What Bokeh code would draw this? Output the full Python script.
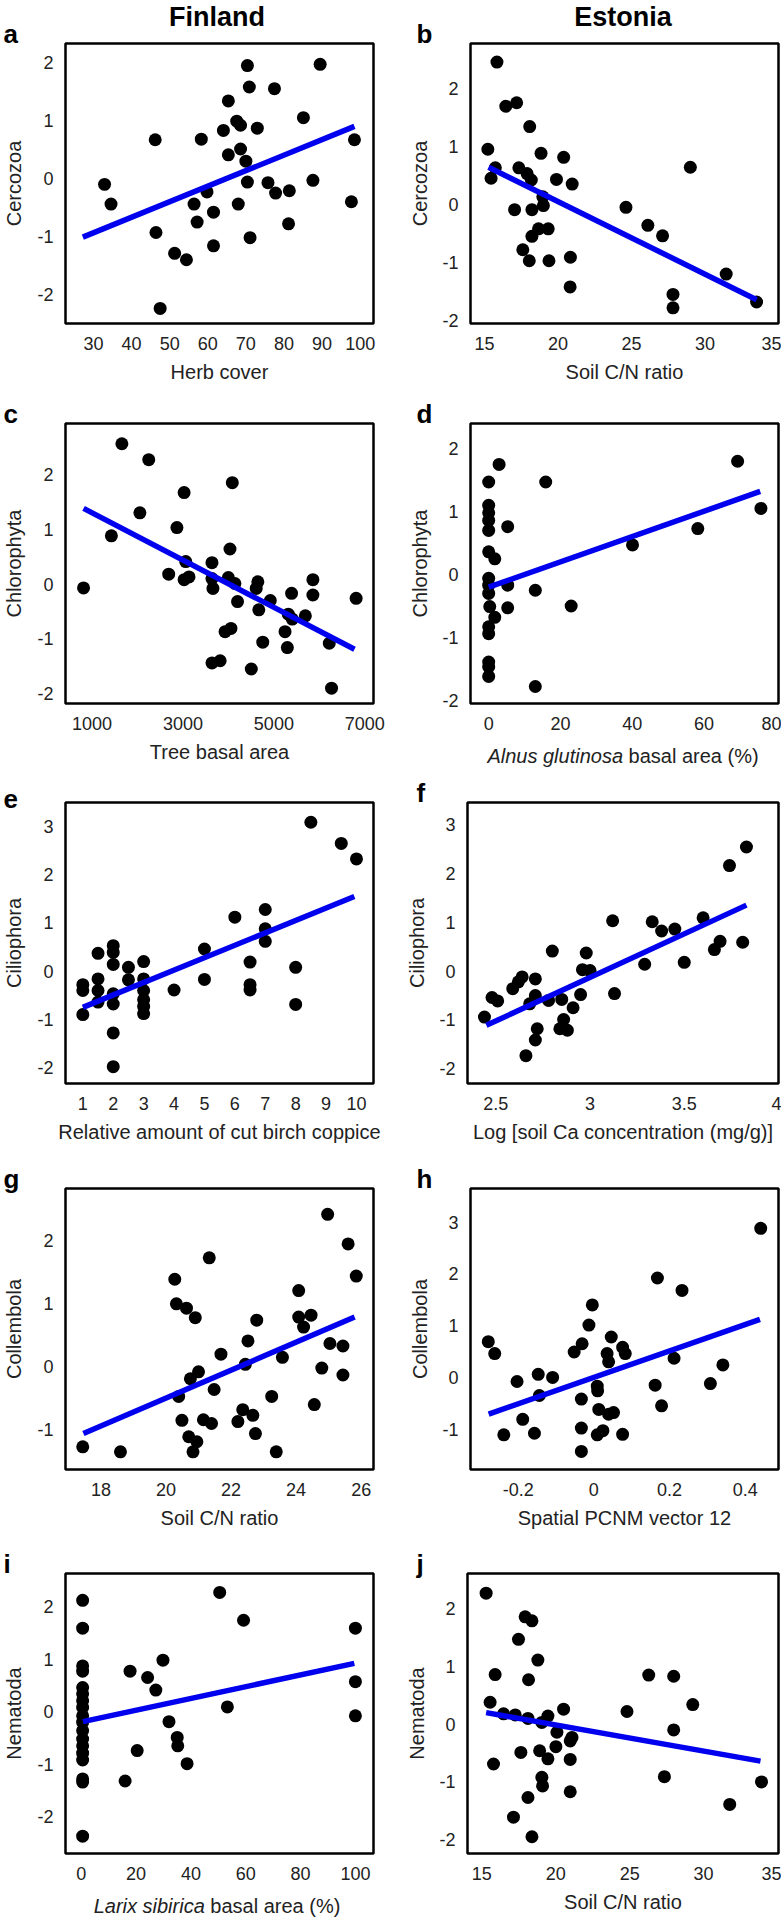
from bokeh.plotting import figure
from bokeh.models import Range1d, FixedTicker, CustomJSTickFormatter, Label
from bokeh.layouts import column, row
from bokeh.embed import file_html
from bokeh.resources import INLINE

FONT = "Liberation Sans"

# ---------------- data ----------------
# a  Finland, Cercozoa vs Herb cover
a_x = [32.9, 34.6, 46.2, 46.4, 47.5, 51.3, 54.4, 56.4, 57.2, 58.3, 59.8, 61.5, 61.5, 64.1, 65.4, 65.4, 67.6, 68.6,
       68.0, 68.6, 70.0, 70.4, 70.9, 70.4, 71.1, 73.0, 75.8, 77.5, 77.8, 81.4, 81.2, 85.1, 87.6, 89.5, 97.7, 98.5]
a_y = [-0.10, -0.44, 0.67, -0.93, -2.24, -1.29, -1.40, -0.44, -0.75, 0.68, -0.23, -0.58, -1.16, 0.83, 1.34, 0.41, 0.99, 0.92,
       -0.44, 0.51, 0.30, 1.95, 1.58, -0.06, -1.02, 0.87, -0.07, 1.55, -0.25, -0.21, -0.78, 1.05, -0.03, 1.97, -0.40, 0.67]
a_fit_x = [27.2, 98.5]
a_fit_y = [-1.01, 0.90]
a_xticks = [30, 40, 50, 60, 70, 80, 90, 100]
a_yticks = [-2, -1, 0, 1, 2]

# b  Estonia, Cercozoa vs Soil C/N ratio
b_x = [15.84, 15.22, 15.44, 15.73, 16.44, 17.18, 17.04, 17.33, 17.6, 17.89, 18.04, 18.07, 18.18, 18.22, 18.22, 18.67, 18.84,
       18.96, 19.0, 19.33, 19.38, 19.89, 20.38, 20.82, 20.84, 20.96, 24.62, 26.11, 27.11, 27.82, 27.82, 29.0, 31.44, 33.51]
b_y = [2.45, 0.95, 0.45, 0.63, 1.69, 1.75, -0.09, 0.63, -0.78, 0.53, -0.97, 1.34, 0.42, -0.09, -0.55, -0.42, 0.88,
       0.13, -0.02, -0.42, -0.97, 0.43, 0.81, -1.42, -0.91, 0.35, -0.05, -0.36, -0.54, -1.55, -1.78, 0.64, -1.20, -1.68]
b_fit_x = [15.27, 33.51]
b_fit_y = [0.64, -1.64]
b_xticks = [15, 20, 25, 30, 35]
b_yticks = [-2, -1, 0, 1, 2]

# c  Finland, Chlorophyta vs Tree basal area
c_x = [813, 1425, 1656, 2052, 2247, 2686, 2867, 3025, 3061, 3025, 3133, 3638, 3638, 3659, 3638, 3818, 3926, 4056, 4034, 4085,
       3998, 4142, 4200, 4503, 4647, 4611, 4668, 4755, 4921, 5245, 5296, 5317, 5389, 5404, 5692, 5858, 5858, 6218, 6268, 6809]
c_y = [-0.07, 0.88, 2.56, 1.30, 2.27, 0.18, 1.03, 1.67, 0.41, 0.08, 0.13, 0.39, 0.10, -0.08, -1.44, -1.40, -0.87, -0.81, 0.64, 1.85,
       0.12, 0.01, -0.32, -1.55, 0.04, -0.08, -0.47, -1.06, -0.30, -0.87, -1.16, -0.55, -0.17, -0.64, -0.58, 0.08, -0.20, -1.08, -1.90, -0.26]
c_fit_x = [813, 6773]
c_fit_y = [1.38, -1.19]
c_xticks = [1000, 3000, 5000, 7000]
c_yticks = [-2, -1, 0, 1, 2]

# d  Estonia, Chlorophyta vs Alnus glutinosa basal area (%)
d_x = [0, 0, 0, 0, 0, 0, 1.7, 0, 0, 0, 0.3, 1.7, 0, 0, 0, 0, 0, 2.9, 5.3, 5.3, 5.3, 13.0, 13.0, 15.9, 23.0, 40.1, 58.3, 69.4, 75.9]
d_y = [1.47, 1.10, 0.98, 0.86, 0.70, 0.36, 0.25, -0.06, -0.17, -0.30, -0.51, -0.68, -0.83, -0.94, -1.39, -1.47, -1.62, 1.75,
       0.76, -0.17, -0.53, -0.25, -1.78, 1.47, -0.50, 0.47, 0.73, 1.80, 1.05]
d_fit_x = [0, 75.7]
d_fit_y = [-0.20, 1.32]
d_xticks = [0, 20, 40, 60, 80]
d_yticks = [-2, -1, 0, 1, 2]

# e  Finland, Ciliophora vs Relative amount of cut birch coppice
e_x = [1, 1, 1, 1.5, 1.5, 1.5, 1.5, 2, 2, 2, 2, 2, 2, 2, 2.5, 2.5, 3, 3, 3, 3, 3, 3, 4, 5, 5, 6, 6.5, 6.5, 6.5,
       7, 7, 7, 8, 8, 8.5, 9.5, 10]
e_y = [-0.28, -0.40, -0.90, 0.37, -0.16, -0.40, -0.64, 0.53, 0.39, 0.14, -0.47, -0.68, -1.28, -1.98, 0.08, -0.18, 0.20, -0.16,
       -0.40, -0.59, -0.73, -0.88, -0.39, 0.46, -0.17, 1.12, 0.19, -0.28, -0.39, 1.28, 0.88, 0.62, 0.08, -0.69, 3.09, 2.65, 2.33]
e_fit_x = [1, 9.93]
e_fit_y = [-0.75, 1.55]
e_xticks = [1, 2, 3, 4, 5, 6, 7, 8, 9, 10]
e_yticks = [-2, -1, 0, 1, 2, 3]

# f  Estonia, Ciliophora vs Log soil Ca
f_x = [2.44, 2.48, 2.51, 2.59, 2.62, 2.64, 2.68, 2.71, 2.71, 2.72, 2.71, 2.66, 2.78, 2.80, 2.85, 2.84, 2.86, 2.88,
       2.91, 2.95, 2.96, 2.98, 3.0, 3.12, 3.13, 3.29, 3.33, 3.38, 3.45, 3.5, 3.60, 3.66, 3.69, 3.74, 3.81, 3.83]
f_y = [-0.94, -0.54, -0.61, -0.36, -0.22, -0.12, -0.67, -0.16, -0.50, -1.18, -1.41, -1.73, -0.60, 0.41, -0.58, -1.18, -0.99, -1.21,
       -0.75, -0.48, 0.03, 0.37, 0.01, 1.03, -0.46, 0.14, 1.01, 0.82, 0.86, 0.18, 1.09, 0.44, 0.61, 2.16, 0.59, 2.54]
f_fit_x = [2.45, 3.83]
f_fit_y = [-1.11, 1.35]
f_xticks = [2.5, 3, 3.5, 4]
f_yticks = [-2, -1, 0, 1, 2, 3]

# g  Finland, Collembola vs Soil C/N ratio
g_x = [17.44, 18.6, 20.27, 20.32, 20.63, 20.9, 20.39, 20.49, 20.70, 20.95, 20.83, 20.75, 21.0, 21.33, 21.15, 21.4, 21.48, 21.69,
       22.21, 22.36, 22.67, 22.75, 22.44, 22.52, 22.79, 23.25, 23.39, 23.58, 24.08, 24.08, 24.23, 24.46, 24.56, 24.79, 25.04,
       24.97, 25.44, 25.44, 25.60, 25.85]
g_y = [-1.28, -1.36, 1.38, 0.99, 0.92, 0.77, -0.48, -0.86, -1.12, -1.20, -1.36, -0.20, -0.09, 1.72, -0.85, -0.91, -0.37, 0.19,
       -0.88, -0.69, -0.78, -1.07, 0.03, 0.40, 0.73, -0.48, -1.36, 0.14, 1.20, 0.78, 0.62, 0.81, -0.61, -0.03, 0.36,
       2.41, 0.32, -0.14, 1.94, 1.43]
g_fit_x = [17.46, 25.8]
g_fit_y = [-1.07, 0.78]
g_xticks = [18, 20, 22, 24, 26]
g_yticks = [-1, 0, 1, 2]

# h  Estonia, Collembola vs Spatial PCNM vector 12
h_x = [-0.279, -0.262, -0.238, -0.203, -0.188, -0.157, -0.147, -0.144, -0.109, -0.052, -0.031, -0.033, -0.033, -0.033,
       -0.013, -0.004, 0.009, 0.010, 0.013, 0.009, 0.024, 0.035, 0.039, 0.039, 0.052, 0.046, 0.076, 0.083, 0.076,
       0.162, 0.179, 0.168, 0.212, 0.233, 0.308, 0.341, 0.441]
h_y = [0.69, 0.46, -1.11, -0.08, -0.81, -1.08, 0.06, -0.35, 0.0, 0.49, 0.65, -0.42, -0.98, -1.43,
       1.01, 1.40, -0.17, -0.26, -0.62, -1.11, -1.03, 0.46, 0.30, -0.71, -0.68, 0.78, 0.58, 0.46, -1.10,
       -0.15, -0.55, 1.92, 0.37, 1.68, -0.12, 0.24, 2.88]
h_fit_x = [-0.278, 0.439]
h_fit_y = [-0.71, 1.12]
h_xticks = [-0.2, 0, 0.2, 0.4]
h_yticks = [-1, 0, 1, 2, 3]

# i  Finland, Nematoda vs Larix sibirica basal area (%)
i_x = [0.5, 0.5, 0.5, 0.5, 0.5, 0.5, 0.5, 0.5, 0.5, 0.5, 0.5, 0.5, 0.5, 0.5, 0.5, 0.5, 0.5, 0.5,
       17.8, 20.4, 16.0, 24.2, 27.2, 29.8, 32.0, 35.0, 35.2, 38.6, 50.5, 53.3, 59.2, 100, 100, 100]
i_y = [2.12, 1.59, 0.87, 0.77, 0.46, 0.34, 0.21, 0.08, -0.08, -0.20, -0.36, -0.52, -0.65, -0.79, -0.92, -1.28, -1.34, -2.37,
       0.77, -0.74, -1.32, 0.65, 0.41, 0.98, -0.19, -0.49, -0.65, -0.99, 2.27, 0.09, 1.74, 1.59, 0.57, -0.08]
i_fit_x = [0.6, 99.6]
i_fit_y = [-0.19, 0.92]
i_xticks = [0, 20, 40, 60, 80, 100]
i_yticks = [-2, -1, 0, 1, 2]

# j  Estonia, Nematoda vs Soil C/N ratio
j_x = [15.29, 15.56, 15.90, 15.79, 16.47, 17.26, 17.14, 17.48, 17.64, 17.93, 18.12, 18.16, 18.12, 18.39, 18.39, 18.79,
       18.91, 19.06, 19.06, 19.11, 19.47, 19.47, 20.01, 20.08, 20.53, 20.98, 21.1, 20.98, 20.98, 24.82, 26.29, 27.35,
       27.98, 27.98, 29.27, 31.77, 33.92]
j_y = [2.27, 0.38, 0.86, -0.69, 0.18, 0.16, -1.61, 1.47, -0.49, 1.86, 0.10, 0.77, -1.27, 1.79, -1.95, 1.11,
       -0.46, 0.03, -0.92, -1.07, 0.14, -0.60, -0.39, -0.14, 0.26, -0.29, -0.23, -0.61, -1.17, 0.22, 0.85, -0.91,
       0.83, -0.10, 0.34, -1.39, -1.00]
j_fit_x = [15.29, 33.85]
j_fit_y = [0.20, -0.64]
j_xticks = [15, 20, 25, 30, 35]
j_yticks = [-2, -1, 0, 1, 2]

# axis limits of each panel
a_xlim, a_ylim = (22.65, 103.5), (-2.5, 2.33)
b_xlim, b_ylim = (14.04, 35.0), (-2.05, 2.77)
c_xlim, c_ylim = (416, 7191), (-2.18, 2.93)
d_xlim, d_ylim = (-5.07, 80.8), (-2.05, 2.40)
e_xlim, e_ylim = (0.43, 10.56), (-2.33, 3.50)
f_xlim, f_ylim = (2.35, 4.0), (-2.30, 3.45)
g_xlim, g_ylim = (16.91, 26.38), (-1.64, 2.82)
h_xlim, h_ylim = (-0.326, 0.488), (-1.78, 3.65)
i_xlim, i_ylim = (-5.75, 106.6), (-2.70, 2.63)
j_xlim, j_ylim = (14.03, 35.07), (-2.24, 2.61)

headers = ["Finland", "Estonia"]

# ---------------- helpers ----------------
ARIAL_W = {'A': 667, 'L': 556, 'l': 222, 'n': 556, 'u': 556, 's': 500, ' ': 278, 'g': 556, 't': 278, 'i': 222,
           'o': 556, 'a': 556, 'r': 333, 'x': 500, 'b': 556, 'c': 500, 'e': 556, '(': 333, '%': 889, ')': 333}


def text_w(s, size):
    return sum(ARIAL_W.get(ch, 556) for ch in s) / 1000.0 * size


LABEL_SIZE = 20
TICK_SIZE = "18px"
TXT_COLOR = "#222222"
DESC = 0.212  # font descent (em) of Liberation Sans

# row geometry: (top border, frame height, bottom border)
ROWS = [(43, 280, 65), (35, 280, 65), (34, 281, 70), (35, 281, 69), (35, 280, 66)]


def lab(text, x, baseline, size, style="normal", align="left", color=TXT_COLOR):
    # positioned in canvas pixels; "bottom" anchor = baseline + descent
    return Label(x=x, y=baseline + DESC * size, x_units="canvas", y_units="canvas", text=text, text_align=align,
                 text_baseline="bottom", text_font=FONT, text_font_style=style,
                 text_font_size="%dpx" % size, text_color=color)


def make_panel(col, rowi, letter, xs, ys, fx, fy, xlim, ylim, xt, yt, xlabel, ylabel):
    top, fh, bottom = ROWS[rowi]
    if col == 0:
        W, bl, br, ystand, letter_x, letter_side = 390, 60, 17, 9, 3, "right"
    else:
        W, bl, br, ystand, letter_x, letter_side = 391, 77, 3, 8, 26, "left"
    fw = W - bl - br
    p = figure(width=W, height=top + fh + bottom, x_range=Range1d(*xlim), y_range=Range1d(*ylim),
               output_backend="svg", toolbar_location=None, title=None,
               min_border_left=bl, min_border_right=br, min_border_top=top, min_border_bottom=bottom)
    p.background_fill_color = "white"
    p.border_fill_color = "white"
    p.outline_line_color = "black"
    p.outline_line_width = 2.5
    p.outline_line_alpha = 1.0
    p.xgrid.grid_line_color = None
    p.ygrid.grid_line_color = None

    p.xaxis.ticker = FixedTicker(ticks=xt)
    p.yaxis.ticker = FixedTicker(ticks=yt)
    for ax in (p.xaxis[0], p.yaxis[0]):
        ax.formatter = CustomJSTickFormatter(code="return String(tick);")
        ax.major_tick_line_color = None
        ax.minor_tick_line_color = None
        ax.major_tick_out = 0
        ax.major_tick_in = 0
        ax.minor_tick_out = 0
        ax.minor_tick_in = 0
        ax.axis_line_color = None
        ax.major_label_text_font = FONT
        ax.major_label_text_font_size = TICK_SIZE
        ax.major_label_text_color = TXT_COLOR
        ax.axis_label_text_font = FONT
        ax.axis_label_text_font_size = "%dpx" % LABEL_SIZE
        ax.axis_label_text_font_style = "normal"
        ax.axis_label_text_color = TXT_COLOR
    p.xaxis.major_label_standoff = 13
    p.yaxis.major_label_standoff = 12
    p.yaxis.axis_label = ylabel
    p.yaxis.axis_label_standoff = ystand

    p.scatter(xs, ys, size=13, color="black", line_color=None)
    p.line(fx, fy, line_width=5.5, line_color="#0000ee")

    cx = bl + fw / 2.0
    if isinstance(xlabel, str):
        p.xaxis.axis_label = xlabel
        p.xaxis.axis_label_standoff = 8
    else:
        # mixed italic / upright label drawn as two text annotations on one line
        base_y = top + fh + 59
        sp = text_w(" ", LABEL_SIZE)
        total = sum(text_w(t, LABEL_SIZE) for t, _ in xlabel) + sp * (len(xlabel) - 1)
        x0 = cx - total / 2.0
        sides = ["below", "above"]
        for k, (t, style) in enumerate(xlabel):
            p.add_layout(lab(t, x0, base_y, LABEL_SIZE, style=style), sides[k])
            x0 += text_w(t, LABEL_SIZE) + sp

    # panel letter
    p.add_layout(lab(letter, letter_x, top, 26, style="bold", color="black"), letter_side)
    if rowi == 0:
        p.add_layout(lab(headers[col], cx, top - 17, 27, style="bold", align="center", color="black"), "above")
    return p


pa = make_panel(0, 0, "a", a_x, a_y, a_fit_x, a_fit_y, a_xlim, a_ylim, a_xticks, a_yticks, "Herb cover", "Cercozoa")
pb = make_panel(1, 0, "b", b_x, b_y, b_fit_x, b_fit_y, b_xlim, b_ylim, b_xticks, b_yticks, "Soil C/N ratio", "Cercozoa")
pc = make_panel(0, 1, "c", c_x, c_y, c_fit_x, c_fit_y, c_xlim, c_ylim, c_xticks, c_yticks, "Tree basal area", "Chlorophyta")
pd = make_panel(1, 1, "d", d_x, d_y, d_fit_x, d_fit_y, d_xlim, d_ylim, d_xticks, d_yticks,
                [("Alnus glutinosa", "italic"), ("basal area (%)", "normal")], "Chlorophyta")
pe = make_panel(0, 2, "e", e_x, e_y, e_fit_x, e_fit_y, e_xlim, e_ylim, e_xticks, e_yticks,
                "Relative amount of cut birch coppice", "Ciliophora")
pf = make_panel(1, 2, "f", f_x, f_y, f_fit_x, f_fit_y, f_xlim, f_ylim, f_xticks, f_yticks,
                "Log [soil Ca concentration (mg/g)]", "Ciliophora")
pg = make_panel(0, 3, "g", g_x, g_y, g_fit_x, g_fit_y, g_xlim, g_ylim, g_xticks, g_yticks, "Soil C/N ratio", "Collembola")
ph = make_panel(1, 3, "h", h_x, h_y, h_fit_x, h_fit_y, h_xlim, h_ylim, h_xticks, h_yticks,
                "Spatial PCNM vector 12", "Collembola")
pi = make_panel(0, 4, "i", i_x, i_y, i_fit_x, i_fit_y, i_xlim, i_ylim, i_xticks, i_yticks,
                [("Larix sibirica", "italic"), ("basal area (%)", "normal")], "Nematoda")
pj = make_panel(1, 4, "j", j_x, j_y, j_fit_x, j_fit_y, j_xlim, j_ylim, j_xticks, j_yticks, "Soil C/N ratio", "Nematoda")

layout = column(row(pa, pb), row(pc, pd), row(pe, pf), row(pg, ph), row(pi, pj))

open("out.html", "w").write(file_html(layout, INLINE))
